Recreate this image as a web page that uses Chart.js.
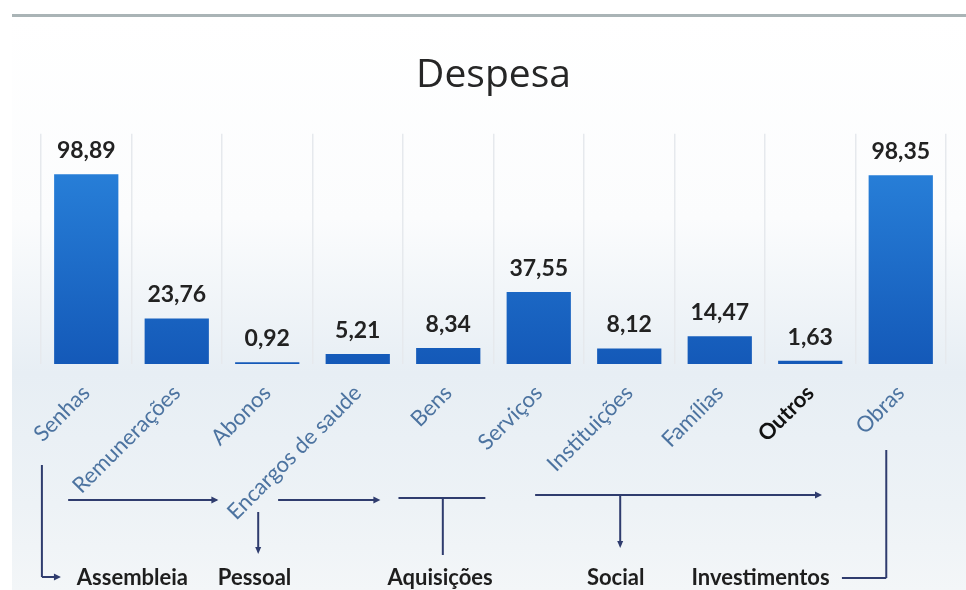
<!DOCTYPE html>
<html>
<head>
<meta charset="utf-8">
<script src="https://cdn.jsdelivr.net/npm/chart.js@4/dist/chart.umd.min.js"></script>
<style>
html,body{margin:0;padding:0;background:#fff;}
#wrap{width:966px;height:590px;position:relative;}
</style>
</head>
<body>
<div id="wrap"><canvas id="c" width="966" height="590"></canvas></div>
<script>
// ---- data ----
const categories = ['Senhas','Remunerações','Abonos','Encargos de saude','Bens','Serviços','Instituições','Famílias','Outros','Obras'];
const values = [98.89, 23.76, 0.92, 5.21, 8.34, 37.55, 8.12, 14.47, 1.63, 98.35];
const valueLabels = ['98,89','23,76','0,92','5,21','8,34','37,55','8,12','14,47','1,63','98,35'];
const groupLabels = ['Assembleia','Pessoal','Aquisições','Social','Investimentos'];
const groupLabelPos = [0.51, 1.86, 3.91, 5.85, 7.45]; // category-index positions
const titleText = 'Despesa';

// ---- plugins ----
const bgPlugin = {
  id: 'bg',
  beforeDraw(chart) {
    const ctx = chart.ctx, w = chart.width, h = chart.height;
    ctx.save();
    ctx.fillStyle = '#ffffff';
    ctx.fillRect(0, 0, w, h);
    const g = ctx.createLinearGradient(0, 18, 0, h);
    g.addColorStop(0, '#ffffff');
    g.addColorStop(0.35, '#fbfcfd');
    g.addColorStop(0.62, '#e7eef4');
    g.addColorStop(0.85, '#edf2f6');
    g.addColorStop(1, '#f3f6f8');
    ctx.fillStyle = g;
    ctx.fillRect(12, 18, w - 12, h - 18);
    ctx.strokeStyle = '#aab4b6';
    ctx.lineWidth = 3;
    ctx.beginPath();
    ctx.moveTo(12, 15.5);
    ctx.lineTo(w, 15.5);
    ctx.stroke();
    ctx.restore();
  }
};

const valueLabelPlugin = {
  id: 'vlabels',
  afterDatasetsDraw(chart) {
    const ctx = chart.ctx;
    const meta = chart.getDatasetMeta(0);
    ctx.save();
    ctx.font = 'bold 23px Lato';
    ctx.fillStyle = '#222222';
    ctx.textAlign = 'center';
    ctx.textBaseline = 'alphabetic';
    meta.data.forEach((bar, i) => {
      ctx.fillText(valueLabels[i], bar.x, bar.y - 16);
    });
    ctx.restore();
  }
};

const annotPlugin = {
  id: 'annot',
  afterDraw(chart) {
    const ctx = chart.ctx;
    const xs = chart.scales.x;
    const X = v => xs.getPixelForValue(v);
    const b = chart.chartArea.bottom;
    ctx.save();
    ctx.strokeStyle = '#2f3c6e';
    ctx.fillStyle = '#2f3c6e';
    ctx.lineWidth = 2;
    const line = (x1, y1, x2, y2) => {
      ctx.beginPath(); ctx.moveTo(x1, y1); ctx.lineTo(x2, y2); ctx.stroke();
    };
    const headR = (x, y) => { ctx.beginPath(); ctx.moveTo(x, y); ctx.lineTo(x - 7, y - 3.5); ctx.lineTo(x - 7, y + 3.5); ctx.closePath(); ctx.fill(); };
    const headD = (x, y) => { ctx.beginPath(); ctx.moveTo(x, y); ctx.lineTo(x - 3, y - 7); ctx.lineTo(x + 3, y - 7); ctx.closePath(); ctx.fill(); };
    // Senhas -> Assembleia
    line(X(-0.49), b + 101, X(-0.49), b + 213);
    line(X(-0.49), b + 213, X(-0.30), b + 213);
    headR(X(-0.28), b + 213);
    // Remunerações -> Abonos
    line(X(-0.20), b + 136, X(1.44), b + 136);
    headR(X(1.46), b + 136);
    // Pessoal down
    line(X(1.90), b + 148, X(1.90), b + 186);
    headD(X(1.90), b + 190);
    // Encargos -> Bens
    line(X(2.12), b + 136, X(3.22), b + 136);
    headR(X(3.25), b + 136);
    // Aquisições
    line(X(3.45), b + 134, X(4.41), b + 134);
    line(X(3.94), b + 134, X(3.94), b + 191);
    // Social
    line(X(4.96), b + 131, X(8.10), b + 131);
    headR(X(8.13), b + 131);
    line(X(5.90), b + 131, X(5.90), b + 178);
    headD(X(5.90), b + 184);
    // Obras -> Investimentos
    line(X(8.84), b + 86, X(8.84), b + 214);
    line(X(8.84), b + 214, X(8.35), b + 214);
    // group labels
    ctx.font = 'bold 22px Lato';
    ctx.fillStyle = '#1e1e1e';
    ctx.textAlign = 'center';
    ctx.textBaseline = 'middle';
    groupLabels.forEach((t, i) => ctx.fillText(t, X(groupLabelPos[i]), b + 214));
    ctx.restore();
  }
};

// ---- chart ----
new Chart(document.getElementById('c'), {
  type: 'bar',
  data: {
    labels: categories,
    datasets: [{
      data: values,
      backgroundColor: (c) => {
        const area = c.chart.chartArea;
        if (!area) return '#1f6fcc';
        const g = c.chart.ctx.createLinearGradient(0, area.top, 0, area.bottom);
        g.addColorStop(0, '#2b86de');
        g.addColorStop(1, '#1459b8');
        return g;
      },
      borderWidth: 0,
      barPercentage: 0.71,
      categoryPercentage: 1.0
    }]
  },
  options: {
    responsive: false,
    animation: false,
    layout: { padding: { left: 41, right: 20, top: 0, bottom: 0 } },
    plugins: {
      legend: { display: false },
      tooltip: { enabled: false },
      title: {
        display: true,
        text: titleText,
        color: '#262626',
        font: { family: 'Open Sans', size: 39, weight: 'normal' },
        padding: { top: 52, bottom: 35 }
      }
    },
    scales: {
      y: { display: false, min: 0, max: 120 },
      x: {
        grid: { display: true, offset: true, color: '#e6e9ed', drawTicks: false, lineWidth: 1.5 },
        border: { display: false },
        afterFit(scale) { scale.height = 226; },
        ticks: {
          autoSkip: false,
          minRotation: 45,
          maxRotation: 45,
          padding: 16,
          color: (c) => c.index === 8 ? '#111111' : '#4c73a0',
          font: (c) => ({ family: 'Lato', size: 22, weight: c.index === 8 ? 'bold' : 'normal' })
        }
      }
    }
  },
  plugins: [bgPlugin, valueLabelPlugin, annotPlugin]
});
</script>
</body>
</html>
